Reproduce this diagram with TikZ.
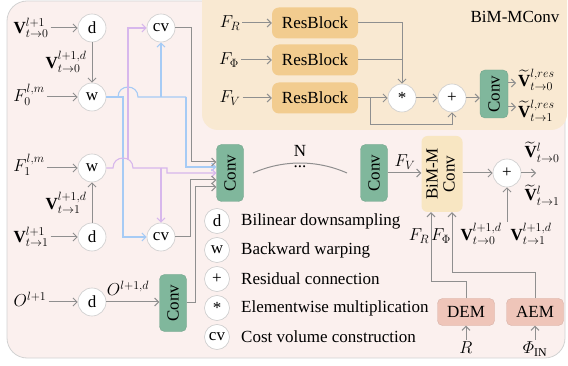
\documentclass[tikz,border=0pt]{standalone}
\usepackage{amsmath}
\usepackage{fontspec}
\setmainfont{Liberation Serif}
\usepackage{graphicx}
\usetikzlibrary{arrows.meta}
\definecolor{bgpink}{HTML}{FBF0EE}
\definecolor{panelc}{HTML}{F9E9D2}
\definecolor{rbc}{HTML}{F2CC8F}
\definecolor{convc}{HTML}{80B79C}
\definecolor{bimc}{HTML}{F8E6C2}
\definecolor{emc}{HTML}{EFC5B9}
\definecolor{lgray}{HTML}{8F8F8F}
\definecolor{blueln}{HTML}{A6CBF5}
\definecolor{purpln}{HTML}{D7B7EC}
\begin{document}
\begin{tikzpicture}[x=1pt,y=-1pt,font=\fontsize{17}{20}\selectfont,
  circ/.style={circle,draw=gray!40,fill=white,minimum size=28pt,inner sep=0pt,line width=0.6pt},
  lcirc/.style={circ,minimum size=25pt},
  convbox/.style={rounded corners=5pt,fill=convc,draw=convc!90!black,line width=0.4pt,minimum width=27pt,minimum height=57pt,inner sep=0pt},
  rbbox/.style={rounded corners=7pt,fill=rbc,minimum width=86pt,minimum height=31pt,inner sep=0pt},
  embox/.style={rounded corners=5pt,fill=emc,draw=emc!90!black,line width=0.4pt,minimum width=57pt,minimum height=27pt,inner sep=0pt},
  lbl/.style={inner sep=2pt},
  ln/.style={draw=lgray,line width=1pt},
  arr/.style={ln,-{Straight Barb[length=4pt,width=8pt]}},
  bln/.style={draw=blueln,line width=1.1pt},
  barr/.style={bln,-{Straight Barb[length=4pt,width=8pt]}},
  pln/.style={draw=purpln,line width=1.1pt},
  parr/.style={pln,-{Straight Barb[length=4pt,width=8pt]}}]
\useasboundingbox (0,0) rectangle (568,366);
\fill[bgpink,draw=gray!35,line width=0.8pt,rounded corners=20pt] (7,1) rectangle (565,358);
\fill[panelc,rounded corners=16pt] (202,-20) rectangle (567,130);

% left column
\node[circ] (d0) at (92,28) {d};
\node[circ] (w0) at (92,97) {w};
\node[circ] (cvt) at (161,28) {cv};
\node[circ] (w1) at (92,168) {w};
\node[circ] (d1) at (92,237) {d};
\node[circ] (cvb) at (161,237) {cv};
\node[circ] (d2) at (92,302) {d};
\node[lbl] (v0) at (31,28) {$\mathbf{V}^{l+1}_{t\to0}$};
\node[lbl] (v0d) at (66,62) {$\mathbf{V}^{l+1,d}_{t\to0}$};
\node[lbl] (f0) at (29,95) {$F_0^{l,m}$};
\node[lbl] (f1) at (29,165) {$F_1^{l,m}$};
\node[lbl] (v1d) at (66,203) {$\mathbf{V}^{l+1,d}_{t\to1}$};
\node[lbl] (v1) at (31,237) {$\mathbf{V}^{l+1}_{t\to1}$};
\node[lbl] (o) at (30,299) {$O^{l+1}$};
\node[lbl] (od) at (128,288) {$O^{l+1,d}$};
\node[convbox] (cs) at (173,303) {\rotatebox{90}{Conv}};
\node[convbox] (conv1) at (230,173) {\rotatebox{90}{Conv}};
\node[convbox] (conv2) at (374,173) {\rotatebox{90}{Conv}};

\draw[arr] (v0.east |- d0.west) -- (d0.west);
\draw[arr] (d0.south) -- (w0.north);
\draw[arr] (f0.east |- w0.west) -- (w0.west);
\draw[arr] (f1.east |- w1.west) -- (w1.west);
\draw[arr] (d1.north) -- (w1.south);
\draw[arr] (v1.east |- d1.west) -- (d1.west);
\draw[arr] (o.east |- d2.west) -- (d2.west);
\draw[arr] (d2.east) -- (cs.west |- d2.east);

% blue
\draw[barr] (w0.east) -- (123,97) |- (cvb.west);
\draw[bln] (118,97) .. controls (118,83.7) and (138,83.7) .. (138,97) -- (186,97);
\draw[barr] (186,97) |- ([yshift=6pt]conv1.west);
\draw[barr] (161,97) -- (cvt.south);
% purple
\draw[parr] (w1.east) -- (113,168) .. controls (113,154.7) and (133,154.7) .. (133,168) -- (167,168) -- (167,173) -- (conv1.west);
\draw[parr] (128,160) -- (128,28) -- (cvt.west);
\draw[parr] (161,168) -- (cvb.north);
% gray into conv1
\draw[arr] (cvt.east) -- (191,28) |- ([yshift=11pt]conv1.west);
\draw[arr] (cvb.east) -- (190,237) |- ([yshift=-7pt]conv1.west);
\draw[arr] (cs.east) -- (195,303) |- ([yshift=-14pt]conv1.west);

% N repetition
\draw[ln] (253,173) .. controls (283,159.7) and (317,159.7) .. (347,173);
\node[lbl] (nl) at (300,151) {N};
\node[lbl] (dots) at (300,167) {...};

% BiM-M and output
\node[rounded corners=6pt,fill=bimc,minimum width=41pt,minimum height=76pt,inner sep=0pt] (bim) at (442,174)
  {\rotatebox{90}{\begin{tabular}{@{}c@{}}BiM-M\\[-3pt]Conv\end{tabular}}};
\node[circ] (plus) at (507,173) {+};
\draw[arr] (conv2.east) -- (bim.west |- conv2.east);
\node[lbl] (fvl) at (405,162) {$F_V$};
\draw[arr] (bim.east |- plus.west) -- (plus.west);
\coordinate (pout) at (536,173);
\draw[arr] (plus.east) -- (pout);
\node[lbl] (vt0) at (542,152) {$\widetilde{\mathbf{V}}^{l}_{t\to0}$};
\node[lbl] (vt1) at (542,195) {$\widetilde{\mathbf{V}}^{l}_{t\to1}$};
\coordinate (pin) at (507,222);
\draw[arr] (pin) -- (plus.south);
\node[lbl] (vd0) at (481,234) {$\mathbf{V}^{l+1,d}_{t\to0}$};
\node[lbl] (vd1) at (531,234) {$\mathbf{V}^{l+1,d}_{t\to1}$};
\node[lbl] (frl) at (419,236) {$F_R$};
\node[lbl] (fpl) at (441,236) {$F_\Phi$};

\node[embox] (dem) at (466,312) {DEM};
\node[embox] (aem) at (535,312) {AEM};
\node[lbl] (rl) at (466,348) {$R$};
\node[lbl] (phl) at (535,349) {$\varPhi_{\mathrm{IN}}$};
\draw[arr] (dem.north) -- (466,282) -| ([xshift=-11pt]bim.south);
\draw[arr] (aem.north) -- (535,273) -| ([xshift=10pt]bim.south);
\draw[arr] (rl.north) -- (dem.south);
\draw[arr] (phl.north) -- (aem.south);

% legend
\node[lcirc] (ld) at (217,221) {d};
\node[lcirc] (lw) at (217,250) {w};
\node[lcirc] (lp) at (217,279) {+};
\node[lcirc] (ls) at (217,308) {*};
\node[lcirc] (lc) at (217,337) {cv};
\node[anchor=west,inner sep=0pt] at (241,221) {Bilinear downsampling};
\node[anchor=west,inner sep=0pt] at (241,250) {Backward warping};
\node[anchor=west,inner sep=0pt] at (241,279) {Residual connection};
\node[anchor=west,inner sep=0pt] at (241,308) {Elementwise multiplication};
\node[anchor=west,inner sep=0pt] at (241,337) {Cost volume construction};

% panel BiM-MConv
\node[lbl] (title) at (515,17) {BiM-MConv};
\node[rbbox] (rb1) at (315,23) {ResBlock};
\node[rbbox] (rb2) at (315,60) {ResBlock};
\node[rbbox] (rb3) at (315,98) {ResBlock};
\node[lbl] (fr) at (230,23) {$F_R$};
\node[lbl] (fp) at (229,60) {$F_\Phi$};
\node[lbl] (fv) at (230,98) {$F_V$};
\node[circ] (star) at (402,98) {*};
\node[circ] (plusp) at (452,98) {+};
\node[convbox,minimum height=48pt,minimum width=28pt] (convp) at (494,94) {\rotatebox{90}{Conv}};
\draw[arr] (fr.east) -- (rb1.west);
\draw[arr] (fp.east) -- (rb2.west);
\draw[arr] (fv.east) -- (rb3.west);
\draw[arr] (rb1.east) -| (star.north);
\draw[ln] (rb2.east) -- (402,60);
\draw[arr] (rb3.east) -- (star.west);
\draw[arr] (370,98) -- (370,125) -| (plusp.south);
\draw[arr] (star.east) -- (plusp.west);
\draw[arr] (plusp.east) -- (convp.west |- plusp.east);
\coordinate (co0) at (516,83);
\coordinate (co1) at (516,107);
\draw[arr] ([yshift=11pt]convp.east) -- (co0);
\draw[arr] ([yshift=-13pt]convp.east) -- (co1);
\node[anchor=west,inner sep=1pt] (or0) at (517,80) {$\widetilde{\mathbf{V}}^{l,res}_{t\to0}$};
\node[anchor=west,inner sep=1pt] (or1) at (517,111) {$\widetilde{\mathbf{V}}^{l,res}_{t\to1}$};
\end{tikzpicture}
\end{document}
